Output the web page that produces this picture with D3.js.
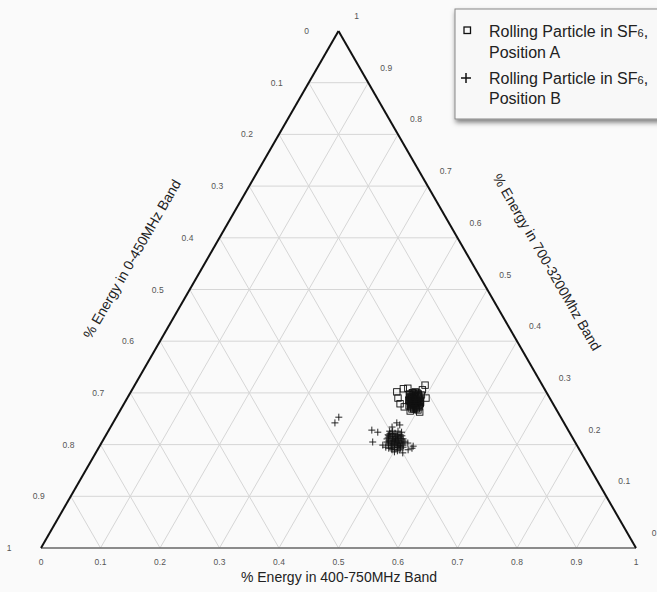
<!DOCTYPE html>
<html>
<head>
<meta charset="utf-8">
<script src="https://cdn.jsdelivr.net/npm/d3@7"></script>
<style>
  html, body { margin: 0; padding: 0; background: #fafafa; }
  svg { display: block; font-family: "Liberation Sans", Arial, Helvetica, sans-serif; }
</style>
</head>
<body>
<svg id="chart" width="657" height="592"></svg>
<script>
// ---- Data (fractions: [A = 0-450MHz, B = 400-750MHz, C = 700-3200MHz]) ----
const tickValues = [0, 0.1, 0.2, 0.3, 0.4, 0.5, 0.6, 0.7, 0.8, 0.9, 1];
const tickLabels = ["0", "0.1", "0.2", "0.3", "0.4", "0.5", "0.6", "0.7", "0.8", "0.9", "1"];
const axisTitles = ["% Energy in 0-450MHz Band", "% Energy in 400-750MHz Band", "% Energy in 700-3200Mhz Band"];
const seriesNames = ["Position A", "Position B"];

const positionA = [
  [0.251,0.447,0.302],[0.237,0.455,0.308],[0.229,0.462,0.309],[0.197,0.488,0.315],[0.206,0.488,0.306],
  [0.257,0.464,0.279],[0.253,0.474,0.273],[0.232,0.505,0.263],[0.247,0.488,0.265],[0.208,0.502,0.290],
  [0.255,0.455,0.290],
  [0.232,0.470,0.298],[0.226,0.474,0.300],[0.220,0.478,0.302],[0.217,0.485,0.298],[0.232,0.476,0.292],
  [0.226,0.480,0.294],[0.222,0.486,0.292],[0.218,0.492,0.290],[0.239,0.475,0.286],[0.235,0.481,0.284],
  [0.229,0.485,0.286],[0.225,0.491,0.284],[0.221,0.497,0.282],[0.240,0.481,0.279],[0.236,0.487,0.277],
  [0.230,0.491,0.279],[0.226,0.497,0.277],[0.241,0.486,0.273],[0.238,0.491,0.271],[0.233,0.496,0.271],
  [0.232,0.478,0.290],[0.226,0.486,0.288],[0.218,0.488,0.294],[0.235,0.485,0.280],[0.227,0.491,0.282],
  [0.235,0.475,0.290],[0.223,0.498,0.279],[0.234,0.491,0.275],[0.242,0.489,0.269],[0.233,0.500,0.267],
  [0.230,0.474,0.296],[0.224,0.478,0.298],[0.223,0.483,0.294],[0.231,0.481,0.288],[0.229,0.496,0.275],
  [0.232,0.486,0.282],[0.237,0.481,0.282],[0.235,0.496,0.269],[0.220,0.494,0.286],[0.244,0.481,0.275],
  [0.225,0.475,0.300],[0.218,0.482,0.300],[0.232,0.472,0.296],[0.225,0.479,0.296],[0.218,0.486,0.296],
  [0.213,0.491,0.296],[0.234,0.474,0.292],[0.227,0.481,0.292],[0.220,0.488,0.292],[0.234,0.478,0.288],
  [0.229,0.483,0.288],[0.221,0.491,0.288],[0.238,0.478,0.284],[0.231,0.485,0.284],[0.228,0.488,0.284],
  [0.221,0.495,0.284],[0.237,0.482,0.281],[0.231,0.488,0.281],[0.226,0.493,0.281],[0.238,0.485,0.277],
  [0.231,0.492,0.277],[0.238,0.489,0.273],[0.233,0.494,0.273],[0.228,0.499,0.273],[0.239,0.492,0.269]
];
const positionB = [
  [0.373,0.374,0.253],[0.385,0.373,0.242],[0.330,0.442,0.228],[0.322,0.454,0.224],[0.340,0.455,0.205],
  [0.326,0.475,0.199],[0.294,0.511,0.195],[0.282,0.515,0.203],[0.280,0.527,0.193],[0.300,0.516,0.184],
  [0.281,0.477,0.242],[0.293,0.473,0.234],[0.278,0.484,0.238],[0.276,0.527,0.197],[0.288,0.522,0.190],
  [0.303,0.476,0.221],[0.294,0.484,0.222],[0.287,0.494,0.219],[0.310,0.477,0.213],[0.301,0.484,0.215],
  [0.293,0.494,0.213],[0.286,0.503,0.211],[0.316,0.479,0.205],[0.308,0.485,0.207],[0.300,0.491,0.209],
  [0.295,0.498,0.207],[0.292,0.505,0.203],[0.316,0.485,0.199],[0.308,0.491,0.201],[0.302,0.499,0.199],
  [0.297,0.506,0.197],[0.315,0.492,0.193],[0.310,0.499,0.191],[0.303,0.507,0.190],[0.313,0.501,0.186],
  [0.293,0.490,0.217],[0.304,0.485,0.211],[0.301,0.494,0.205],[0.307,0.476,0.217],[0.295,0.502,0.203],
  [0.286,0.509,0.205],[0.323,0.482,0.195],[0.303,0.502,0.195],[0.296,0.478,0.226],[0.282,0.494,0.224],
  [0.299,0.479,0.222],[0.287,0.487,0.226],[0.307,0.474,0.219],[0.299,0.482,0.219],[0.292,0.489,0.219],
  [0.285,0.498,0.217],[0.306,0.479,0.215],[0.297,0.488,0.215],[0.289,0.496,0.215],[0.313,0.476,0.211],
  [0.301,0.488,0.211],[0.296,0.493,0.211],[0.289,0.500,0.211],[0.312,0.481,0.207],[0.305,0.488,0.207],
  [0.298,0.495,0.207],[0.288,0.505,0.207],[0.310,0.487,0.203],[0.304,0.493,0.203],[0.297,0.500,0.203],
  [0.315,0.482,0.203],[0.312,0.489,0.199],[0.306,0.495,0.199],[0.299,0.502,0.199],[0.311,0.494,0.195],
  [0.304,0.501,0.195],[0.299,0.508,0.193],[0.315,0.495,0.190],[0.307,0.505,0.188],[0.319,0.488,0.193],
  [0.292,0.509,0.199],[0.301,0.473,0.226]
];

// ---- Layout ----
const svg = d3.select("#chart");
const W = 657, H = 592;
svg.append("rect").attr("width", W).attr("height", H).attr("fill", "#fafafa");

const xS = d3.scaleLinear().domain([0, 1]).range([41, 636]);   // along base
const yS = d3.scaleLinear().domain([0, 1]).range([548, 31]);   // C height
const px = (a, b, c) => xS(b + c / 2);
const py = (a, b, c) => yS(c);

const defs = svg.append("defs");
const f = defs.append("filter").attr("id", "shadow").attr("x", "-10%").attr("y", "-10%").attr("width", "130%").attr("height", "140%");
f.append("feDropShadow").attr("dx", 1).attr("dy", 3).attr("stdDeviation", 2.5).attr("flood-color", "#000").attr("flood-opacity", 0.5);

// grid
const grid = svg.append("g").attr("stroke", "#d6d6d6").attr("stroke-width", 1).attr("fill", "none");
tickValues.slice(1, -1).forEach(v => {
  grid.append("line").attr("x1", px(1 - v, 0, v)).attr("y1", py(1 - v, 0, v))
      .attr("x2", px(0, 1 - v, v)).attr("y2", py(0, 1 - v, v));
  grid.append("line").attr("x1", px(1 - v, v, 0)).attr("y1", py(1 - v, v, 0))
      .attr("x2", px(0, v, 1 - v)).attr("y2", py(0, v, 1 - v));
  grid.append("line").attr("x1", px(v, 1 - v, 0)).attr("y1", py(v, 1 - v, 0))
      .attr("x2", px(v, 0, 1 - v)).attr("y2", py(v, 0, 1 - v));
});

// edges
const vBL = [px(1,0,0), py(1,0,0)], vBR = [px(0,1,0), py(0,1,0)], vT = [px(0,0,1), py(0,0,1)];
svg.append("line").attr("x1", vBL[0]).attr("y1", vBL[1]).attr("x2", vBR[0]).attr("y2", vBR[1])
   .attr("stroke", "#666").attr("stroke-width", 1.5);
svg.append("line").attr("x1", vBL[0]).attr("y1", vBL[1]).attr("x2", vT[0]).attr("y2", vT[1])
   .attr("stroke", "#111").attr("stroke-width", 2);
svg.append("line").attr("x1", vBR[0]).attr("y1", vBR[1]).attr("x2", vT[0]).attr("y2", vT[1])
   .attr("stroke", "#111").attr("stroke-width", 2);

// tick labels
const tl = svg.append("g").attr("font-size", 8.5).attr("fill", "#555").attr("text-anchor", "middle");
tickValues.forEach((v, i) => {
  tl.append("text").attr("x", px(v, 0, 1 - v) - 32).attr("y", py(v, 0, 1 - v) + 3).text(tickLabels[i]);
  tl.append("text").attr("x", px(0, 1 - v, v) + 18).attr("y", py(0, 1 - v, v) - 12).text(tickLabels[i]);
  tl.append("text").attr("x", px(1 - v, v, 0)).attr("y", py(1 - v, v, 0) + 17).text(tickLabels[i]);
});

// axis titles
const at = svg.append("g").attr("font-size", 14).attr("fill", "#222").attr("text-anchor", "middle");
at.append("text").attr("transform", "translate(132,259) rotate(-60)").attr("dy", "0.35em").text(axisTitles[0]);
at.append("text").attr("x", 339).attr("y", 582).text(axisTitles[1]);
at.append("text").attr("transform", "translate(547,262) rotate(60)").attr("dy", "0.35em").text(axisTitles[2]);

// points
const gA = svg.append("g").attr("fill", "none").attr("stroke", "#111").attr("stroke-width", 0.9);
gA.selectAll("rect").data(positionA).join("rect")
  .attr("x", d => px(...d) - 3.2).attr("y", d => py(...d) - 3.2)
  .attr("width", 6.4).attr("height", 6.4);
const gB = svg.append("g").attr("fill", "none").attr("stroke", "#111").attr("stroke-width", 0.9);
gB.selectAll("path").data(positionB).join("path")
  .attr("d", d => { const x = px(...d), y = py(...d); return `M${x-3.5},${y}H${x+3.5}M${x},${y-3.5}V${y+3.5}`; });

// legend
const lg = svg.append("g");
lg.append("rect").attr("x", 455).attr("y", 9).attr("width", 215).attr("height", 110)
  .attr("fill", "#f8f8f8").attr("stroke", "#888").attr("stroke-width", 1).attr("filter", "url(#shadow)");
lg.append("rect").attr("x", 464).attr("y", 27).attr("width", 6.5).attr("height", 6.5)
  .attr("fill", "none").attr("stroke", "#111").attr("stroke-width", 1.3);
lg.append("path").attr("d", "M461,78H471M466,73V83").attr("stroke", "#111").attr("stroke-width", 1.5);
const lt = lg.append("g").attr("font-size", 16).attr("fill", "#222");
[[37, 58, 0], [84, 104, 1]].forEach(([y1, y2, i]) => {
  const t = lt.append("text").attr("x", 489).attr("y", y1);
  t.append("tspan").text("Rolling Particle in SF");
  t.append("tspan").attr("font-size", 11).text("6");
  t.append("tspan").text(",");
  lt.append("text").attr("x", 489).attr("y", y2).text(seriesNames[i]);
});
</script>
</body>
</html>
